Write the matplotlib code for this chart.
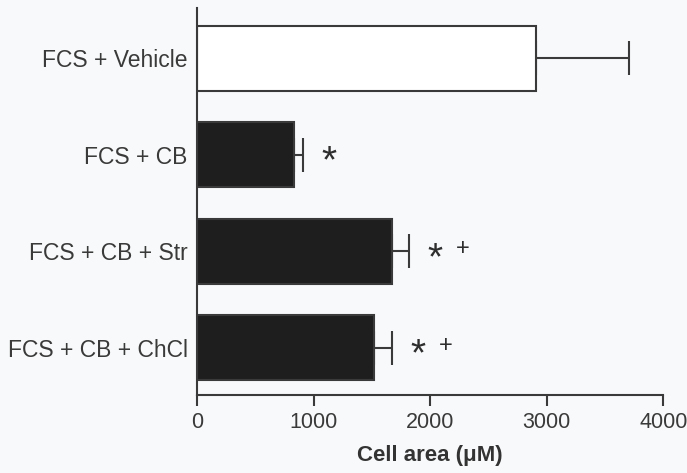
import numpy as np
import matplotlib
matplotlib.use("Agg")
import matplotlib.pyplot as plt

# data
groups = ["FCS + Vehicle", "FCS + CB", "FCS + CB + Str", "FCS + CB + ChCl"]
cell_area = [2910, 833, 1671, 1519]
sem = [796, 72, 149, 155]
marks = ["", "*", "*", "*"]
marks2 = ["", "", "+", "+"]

plt.rcParams['font.family'] = ['Liberation Sans', 'DejaVu Sans']

bg = '#f8f9fa'
ink = '#3a3a3a'

fig = plt.figure(figsize=(6.87, 4.73), dpi=100, facecolor=bg)
ax = fig.add_axes([0.2872, 0.1649, 0.6783, 0.8182], facecolor=bg)

ypos = np.arange(len(groups))[::-1]
colors = ['white'] + ['#1e1e1e'] * (len(groups) - 1)

ax.barh(ypos, cell_area, height=0.67, color=colors, edgecolor=ink, linewidth=1.5, zorder=2)
ax.errorbar(cell_area, ypos, xerr=[np.zeros(len(sem)), sem], fmt='none',
            ecolor=ink, elinewidth=1.5, capsize=12, capthick=1.5, zorder=1)

# significance marks beside the error bars
for y, m, e, s1, s2 in zip(ypos, cell_area, sem, marks, marks2):
    if s1:
        ax.annotate(s1, (m + e, y), xytext=(26, -8), textcoords='offset pixels',
                    ha='center', va='center', fontsize=28, color='#2e2e2e')
    if s2:
        ax.annotate(s2, (m + e, y), xytext=(53, 2), textcoords='offset pixels',
                    ha='center', va='center', fontsize=17, color='#2e2e2e')

ax.set_xlim(0, 4000)
ax.set_ylim(-0.49, 3.52)
ax.set_xticks([0, 1000, 2000, 3000, 4000])
ax.set_yticks(ypos)
ax.set_yticklabels(groups)
ax.tick_params(axis='y', length=0, pad=7, labelsize=16.5, labelcolor='#3a3a3a')
ax.tick_params(axis='x', length=8, width=1.5, color=ink, labelsize=15.5, labelcolor='#3a3a3a', pad=4)
ax.spines['top'].set_visible(False)
ax.spines['right'].set_visible(False)
for sp in ['left', 'bottom']:
    ax.spines[sp].set_linewidth(1.5)
    ax.spines[sp].set_color(ink)

ax.set_xlabel("Cell area (\u03bcM)", fontsize=16, fontweight='bold', color='#333333', labelpad=9)

fig.savefig("out.png", dpi=100, facecolor=bg)
